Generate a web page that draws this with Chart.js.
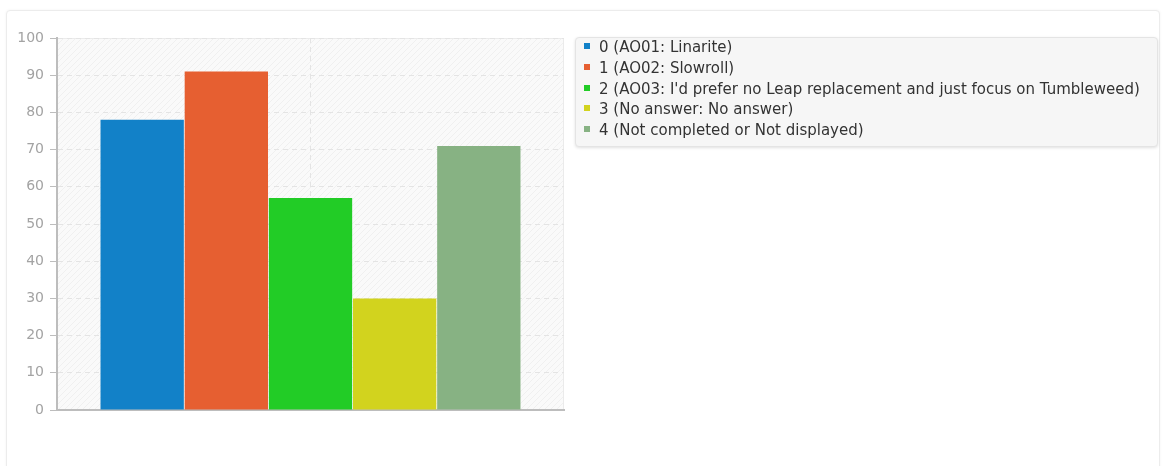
<!DOCTYPE html>
<html>
<head>
<meta charset="utf-8">
<script src="https://cdn.jsdelivr.net/npm/chart.js@4"></script>
<style>
  body { margin: 0; background: #fff; font-family: "DejaVu Sans", sans-serif; }
  #card {
    position: absolute; left: 6px; top: 10px; width: 1152px; height: 470px;
    border: 1px solid #ececec; border-radius: 4px; box-shadow: 0 0 3px rgba(0,0,0,0.05);
    background: #fff;
  }
  #wrap { position: absolute; left: 0; top: 0; width: 572px; height: 466px; }
  #legend {
    position: absolute; left: 575px; top: 37px; width: 573px; height: 104px;
    padding: 0 0 4px 8px; background: #f6f6f6; border: 1px solid #e4e4e4;
    border-radius: 4px; box-shadow: 0 1px 3px rgba(0,0,0,0.12);
    font-size: 15px; color: #333;
  }
  #legend div { height: 20.75px; line-height: 20.75px; white-space: nowrap; }
  #legend div:first-child { margin-top: -1px; }
  #legend span.sw { display: inline-block; width: 6px; height: 6px; margin-right: 9px; vertical-align: 3px; }
</style>
</head>
<body>
<div id="card"></div>
<div id="wrap"><canvas id="chart"></canvas></div>
<div id="legend"></div>
<script>
// Data
const categories = [''];
const seriesNames = [
    '0 (AO01: Linarite)',
    '1 (AO02: Slowroll)',
    "2 (AO03: I'd prefer no Leap replacement and just focus on Tumbleweed)",
    '3 (No answer: No answer)',
    '4 (Not completed or Not displayed)'
];
const seriesValues = [78, 91, 57, 30, 71];
const seriesColors = ['#1281c8', '#e65f31', '#22cc26', '#d2d31e', '#87b283'];
const yTicks = [0, 10, 20, 30, 40, 50, 60, 70, 80, 90, 100];

// Build the HTML legend
const legend = document.getElementById('legend');
seriesNames.forEach((name, i) => {
    const row = document.createElement('div');
    row.innerHTML = '<span class="sw" style="background:' + seriesColors[i] + '"></span>';
    row.appendChild(document.createTextNode(name));
    legend.appendChild(row);
});

// Striped background behind the plot
function makeHatch(ctx) {
    const c = document.createElement('canvas');
    c.width = 6; c.height = 6;
    const g = c.getContext('2d');
    g.fillStyle = '#fafafa';
    g.fillRect(0, 0, 6, 6);
    g.strokeStyle = '#f0f0f0';
    g.lineWidth = 1;
    g.beginPath();
    g.moveTo(0, 6); g.lineTo(6, 0);
    g.moveTo(-3, 3); g.lineTo(3, -3);
    g.moveTo(3, 9); g.lineTo(9, 3);
    g.stroke();
    return ctx.createPattern(c, 'repeat');
}

const plotBackground = {
    id: 'plotBackground',
    beforeDraw(chart) {
        const { ctx, chartArea: a } = chart;
        ctx.save();
        ctx.fillStyle = makeHatch(ctx);
        ctx.fillRect(a.left, a.top, a.right - a.left, a.bottom - a.top);
        ctx.strokeStyle = '#ebebeb';
        ctx.lineWidth = 1;
        ctx.strokeRect(a.left + 0.5, a.top + 0.5, a.right - a.left - 1, a.bottom - a.top);
        ctx.restore();
    }
};

const datasets = seriesNames.map((name, i) => ({
    label: name,
    data: [seriesValues[i]],
    backgroundColor: seriesColors[i],
    borderWidth: 0,
    categoryPercentage: 0.83,
    barPercentage: 0.99
}));

new Chart(document.getElementById('chart'), {
    type: 'bar',
    data: { labels: categories, datasets: datasets },
    plugins: [plotBackground],
    options: {
        responsive: true,
        maintainAspectRatio: false,
        animation: false,
        layout: { padding: { left: 0, top: 38, right: 8, bottom: 56 } },
        plugins: { legend: { display: false }, tooltip: { enabled: false } },
        scales: {
            x: {
                ticks: { display: false },
                grid: { offset: false, color: '#e4e4e4', drawTicks: false },
                border: { color: '#bdbdbd', width: 2, dash: [5, 4] },
                afterFit: s => { s.height = 0; }
            },
            y: {
                min: 0,
                max: 100,
                afterBuildTicks: s => { s.ticks = yTicks.map(v => ({ value: v })); },
                ticks: { color: '#a3a3a3', font: { family: 'DejaVu Sans', size: 14 }, padding: 6 },
                grid: { color: '#e4e4e4', tickColor: '#bdbdbd', tickLength: 7, tickBorderDash: [] },
                border: { color: '#bdbdbd', width: 2, dash: [5, 4] },
                afterFit: s => { s.width = 57; }
            }
        }
    }
});
</script>
</body>
</html>
